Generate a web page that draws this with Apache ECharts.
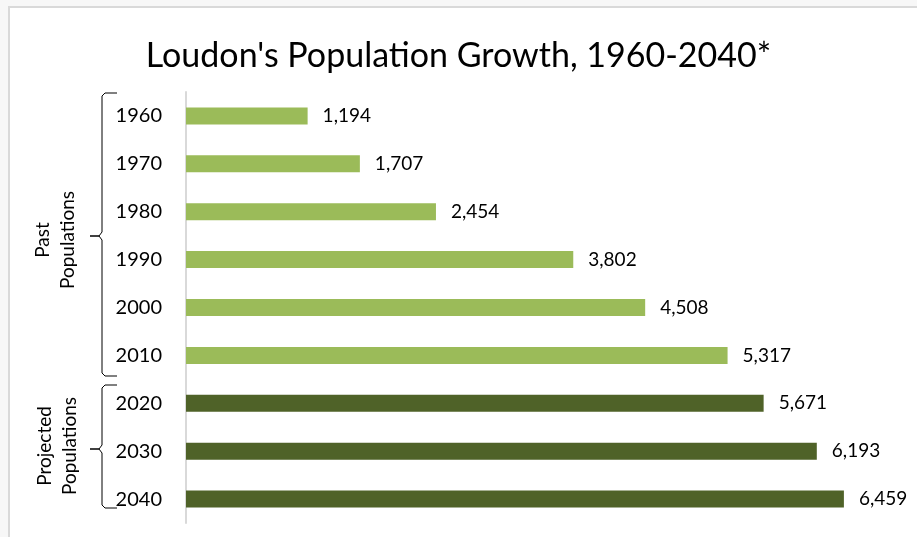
<!DOCTYPE html>
<html>
<head>
<meta charset="utf-8">
<script src="https://cdn.jsdelivr.net/npm/echarts@6/dist/echarts.min.js"></script>
<style>
html, body { margin: 0; padding: 0; background: #f7f7f7; }
#main { position: absolute; left: 0; top: 0; width: 917px; height: 537px; }
</style>
</head>
<body>
<div id="main"></div>
<script>
// data
var years = ['1960', '1970', '1980', '1990', '2000', '2010', '2020', '2030', '2040'];
var population = [1194, 1707, 2454, 3802, 4508, 5317, 5671, 6193, 6459];
var groups = ['past', 'past', 'past', 'past', 'past', 'past', 'projected', 'projected', 'projected'];
var groupColors = { past: '#9bbb59', projected: '#4f6228' };

var FONT = 'Lato';

var chart = echarts.init(document.getElementById('main'));

// bracket lines drawn beside the category axis
function bracket(top, mid, bottom) {
	return [
		{ type: 'polyline', shape: { points: [[117, top], [105, top], [102, top + 3], [102, mid - 4], [99, mid], [90, mid]] },
		  style: { stroke: '#000', lineWidth: 1, fill: null } },
		{ type: 'polyline', shape: { points: [[90, mid], [99, mid], [102, mid + 4], [102, bottom - 3], [105, bottom], [117, bottom]] },
		  style: { stroke: '#000', lineWidth: 1, fill: null } }
	];
}

var option = {
	animation: false,
	title: {
		text: "Loudon's Population Growth, 1960-2040*",
		left: 'center',
		top: 34,
		textStyle: { fontFamily: FONT, fontSize: 34, fontWeight: 'normal', color: '#000' }
	},
	grid: { left: 186, right: 18, top: 92, bottom: 14, outerBoundsMode: 'none' },
	xAxis: {
		type: 'value',
		min: 0,
		max: 7000,
		show: false,
		splitLine: { show: false }
	},
	yAxis: {
		type: 'category',
		data: years,
		inverse: true,
		axisLine: { show: true, lineStyle: { color: '#d9d9d9', width: 2 } },
		axisTick: { show: false },
		axisLabel: { fontFamily: FONT, fontSize: 20, color: '#000', margin: 24 }
	},
	series: [{
		type: 'bar',
		barWidth: 17,
		data: population.map(function (v, i) {
			return { value: v, itemStyle: { color: groupColors[groups[i]] } };
		}),
		label: {
			show: true,
			position: 'right',
			distance: 15,
			fontFamily: FONT,
			fontSize: 19,
			color: '#000',
			formatter: function (p) { return p.value.toLocaleString('en-US'); }
		}
	}],
	graphic: [
		{ type: 'rect', z: -10, shape: { x: 9, y: 7, width: 920, height: 540 },
		  style: { fill: '#fff', stroke: '#d9d9d9', lineWidth: 2 } },
		{ type: 'text', x: 55, y: 240, rotation: Math.PI / 2,
		  style: { text: 'Past\nPopulations', fontFamily: FONT, fontSize: 19, lineHeight: 25,
		           align: 'center', verticalAlign: 'middle', fill: '#000' } },
		{ type: 'text', x: 57, y: 446, rotation: Math.PI / 2,
		  style: { text: 'Projected\nPopulations', fontFamily: FONT, fontSize: 19, lineHeight: 25,
		           align: 'center', verticalAlign: 'middle', fill: '#000' } }
	].concat(bracket(93, 236, 376)).concat(bracket(385, 449, 508))
};

chart.setOption(option);
</script>
</body>
</html>
